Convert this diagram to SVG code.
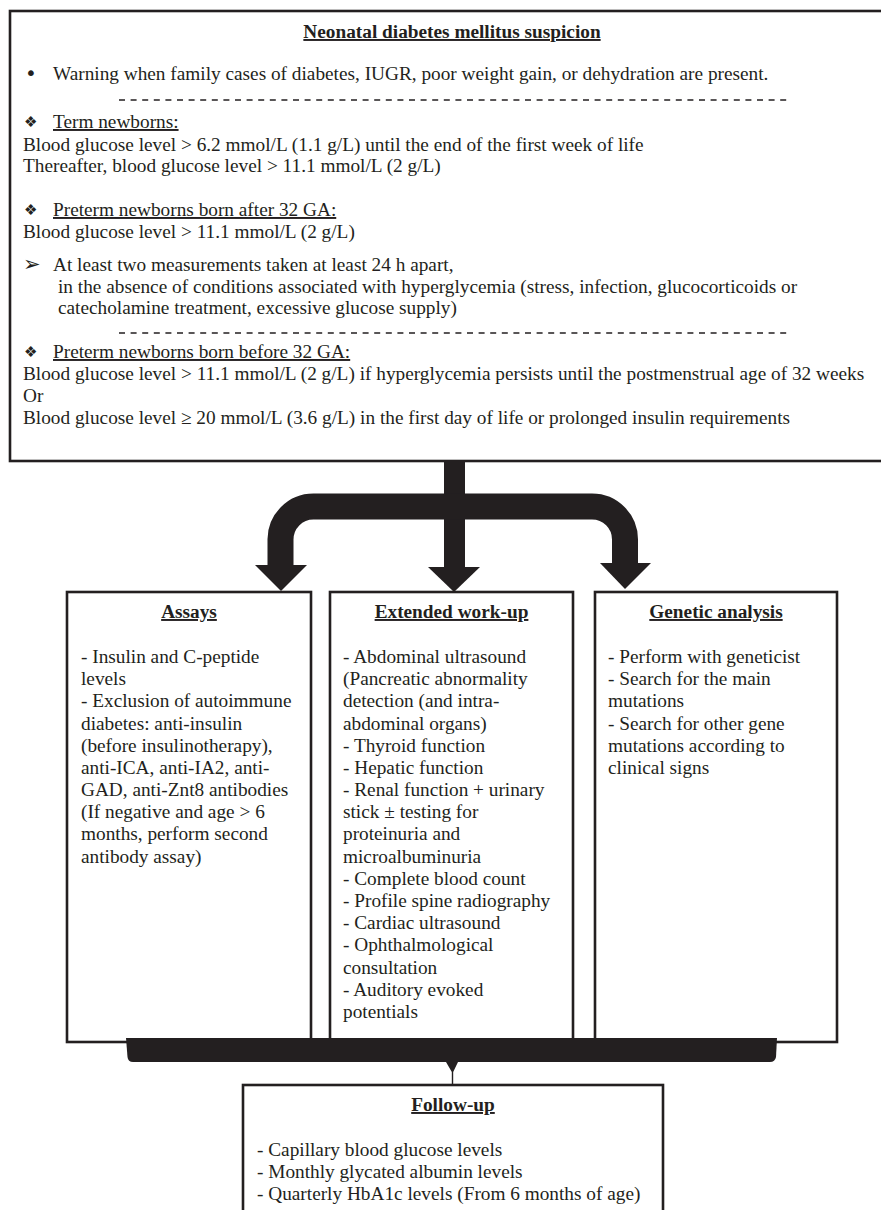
<svg xmlns="http://www.w3.org/2000/svg" width="881" height="1210" viewBox="0 0 881 1210">
<style>
text{font-family:"Liberation Serif","Times New Roman",serif;font-size:19.3px;fill:#231f20}
.b{font-weight:bold;text-decoration:underline}
.u{text-decoration:underline}
.sym{font-family:"DejaVu Sans",sans-serif;font-size:15px}
.arr{font-family:"DejaVu Sans",sans-serif;font-size:21px}
.bul{font-family:"DejaVu Sans",sans-serif;font-size:20px}
.box{fill:#fff;stroke:#231f20;stroke-width:2.6}
.dash{stroke:#231f20;stroke-width:1.3;stroke-dasharray:6 5.6}
.blk{fill:#231f20}
</style>
<rect width="881" height="1210" fill="#fff"/>
<g id="suspicion">
<rect class="box" x="10" y="11" width="890" height="450"/>
<text class="b" x="452" y="38" text-anchor="middle">Neonatal diabetes mellitus suspicion</text>
<text class="bul" x="25" y="80">•</text>
<text x="53" y="80">Warning when family cases of diabetes, IUGR, poor weight gain, or dehydration are present.</text>
<line class="dash" x1="119" y1="100" x2="790" y2="100"/>
<text class="sym" x="24" y="127">❖</text>
<text class="u" x="53" y="128">Term newborns:</text>
<text x="23" y="151">Blood glucose level &gt; 6.2 mmol/L (1.1 g/L) until the end of the first week of life</text>
<text x="23" y="172">Thereafter, blood glucose level &gt; 11.1 mmol/L (2 g/L)</text>
<text class="sym" x="24" y="215">❖</text>
<text class="u" x="53" y="216">Preterm newborns born after 32 GA:</text>
<text x="23" y="238">Blood glucose level &gt; 11.1 mmol/L (2 g/L)</text>
<text class="arr" x="23" y="271">➢</text>
<text x="53" y="271">At least two measurements taken at least 24 h apart,</text>
<text x="58" y="293">in the absence of conditions associated with hyperglycemia (stress, infection, glucocorticoids or</text>
<text x="58" y="314">catecholamine treatment, excessive glucose supply)</text>
<line class="dash" x1="119" y1="333" x2="790" y2="333"/>
<text class="sym" x="24" y="357">❖</text>
<text class="u" x="53" y="358">Preterm newborns born before 32 GA:</text>
<text x="23" y="380">Blood glucose level &gt; 11.1 mmol/L (2 g/L) if hyperglycemia persists until the postmenstrual age of 32 weeks</text>
<text x="23" y="402">Or</text>
<text x="23" y="424">Blood glucose level ≥ 20 mmol/L (3.6 g/L) in the first day of life or prolonged insulin requirements</text>
</g>
<g id="assays">
<rect class="box" x="67" y="592" width="244" height="450"/>
<text class="b" x="189" y="618" text-anchor="middle">Assays</text>
<text x="81" y="663">- Insulin and C-peptide</text>
<text x="81" y="685">levels</text>
<text x="81" y="707">- Exclusion of autoimmune</text>
<text x="81" y="730">diabetes: anti-insulin</text>
<text x="81" y="752">(before insulinotherapy),</text>
<text x="81" y="774">anti-ICA, anti-IA2, anti-</text>
<text x="81" y="796">GAD, anti-Znt8 antibodies</text>
<text x="81" y="818">(If negative and age &gt; 6</text>
<text x="81" y="840">months, perform second</text>
<text x="81" y="863">antibody assay)</text>
</g>
<g id="extended">
<rect class="box" x="330" y="592" width="243" height="450"/>
<text class="b" x="451.5" y="618" text-anchor="middle">Extended work-up</text>
<text x="343" y="663">- Abdominal ultrasound</text>
<text x="343" y="685">(Pancreatic abnormality</text>
<text x="343" y="707">detection (and intra-</text>
<text x="343" y="730">abdominal organs)</text>
<text x="343" y="752">- Thyroid function</text>
<text x="343" y="774">- Hepatic function</text>
<text x="343" y="796">- Renal function + urinary</text>
<text x="343" y="818">stick ± testing for</text>
<text x="343" y="840">proteinuria and</text>
<text x="343" y="863">microalbuminuria</text>
<text x="343" y="885">- Complete blood count</text>
<text x="343" y="907">- Profile spine radiography</text>
<text x="343" y="929">- Cardiac ultrasound</text>
<text x="343" y="951">- Ophthalmological</text>
<text x="343" y="974">consultation</text>
<text x="343" y="996">- Auditory evoked</text>
<text x="343" y="1018">potentials</text>
</g>
<g id="genetic">
<rect class="box" x="595" y="592" width="242" height="450"/>
<text class="b" x="716" y="618" text-anchor="middle">Genetic analysis</text>
<text x="608" y="663">- Perform with geneticist</text>
<text x="608" y="685">- Search for the main</text>
<text x="608" y="707">mutations</text>
<text x="608" y="730">- Search for other gene</text>
<text x="608" y="752">mutations according to</text>
<text x="608" y="774">clinical signs</text>
</g>
<g id="followup">
<rect class="box" x="243" y="1085" width="420" height="140"/>
<text class="b" x="453" y="1111" text-anchor="middle">Follow-up</text>
<text x="257" y="1156">- Capillary blood glucose levels</text>
<text x="257" y="1178">- Monthly glycated albumin levels</text>
<text x="257" y="1200">- Quarterly HbA1c levels (From 6 months of age)</text>
</g>
<g id="connectors">
<rect class="blk" x="444" y="460" width="21" height="110"/>
<path d="M280.5 567 V540 A33 33 0 0 1 313.5 506.5 H592 A33 33 0 0 1 625 539.5 V565" fill="none" stroke="#231f20" stroke-width="26"/>
<polygon class="blk" points="255,565 307,565 281,591"/>
<polygon class="blk" points="428,567 480,567 454,592"/>
<polygon class="blk" points="600,563 651,563 625,589"/>
<path class="blk" d="M126 1038 H777 L776 1057 Q775 1062 770 1062 H133 Q128 1062 127.5 1057 Z"/>
<path class="blk" d="M446 1062 H458 L453.2 1072 V1085 H451.8 V1072 Z"/>
</g>
</svg>
